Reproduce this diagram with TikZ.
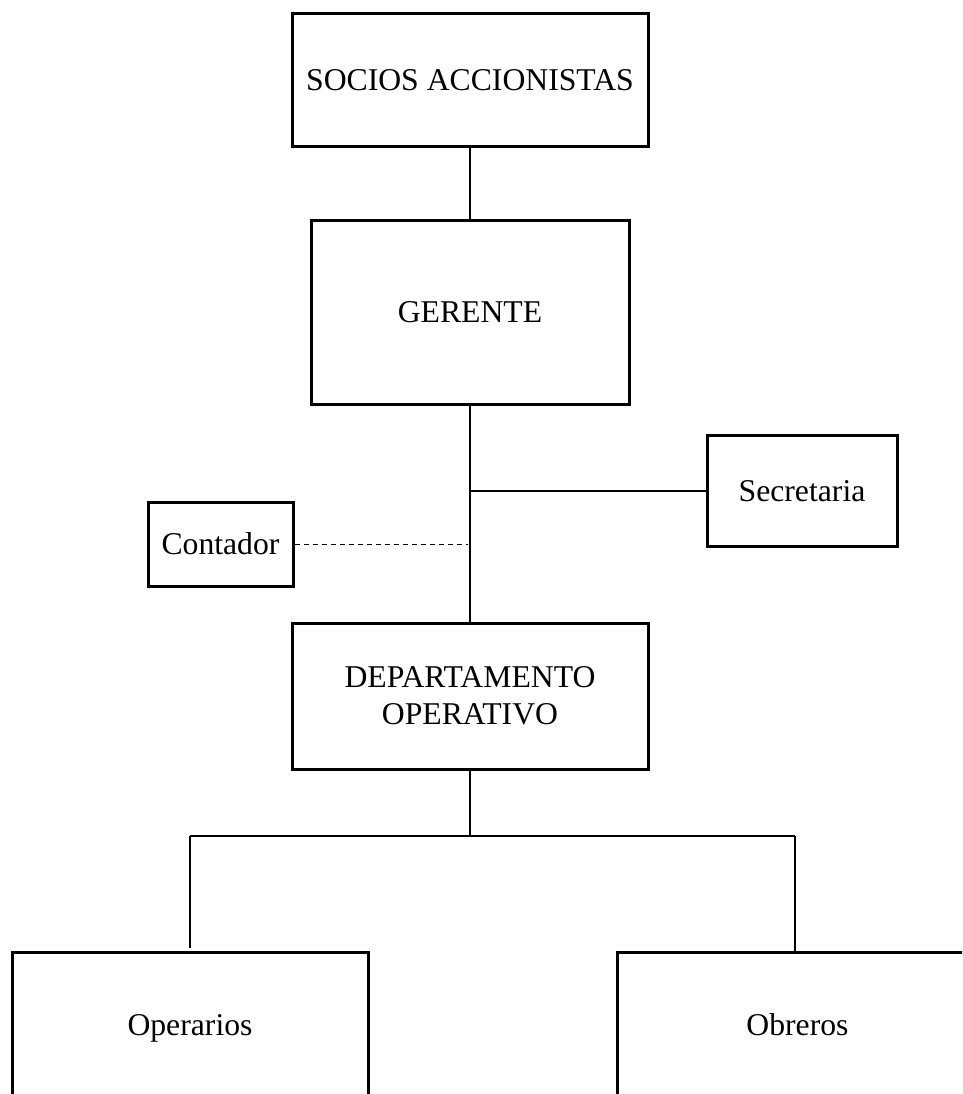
\documentclass[tikz,border=0pt]{standalone}
\usepackage{fontspec}
\setmainfont{Liberation Serif}
\begin{document}
\begin{tikzpicture}[x=1pt,y=-1pt,
  orgbox/.style={draw=black, line width=3pt, inner sep=0pt, align=center,
    font=\fontsize{31.7}{37}\selectfont},
  oneline/.style={text height=21pt, text depth=0pt},
  conn/.style={draw=black, line width=2.3pt},
  dotconn/.style={draw=black, line width=1pt, dash pattern=on 5pt off 4pt}]
\useasboundingbox (0,0) rectangle (962,1094);
\clip (0,0) rectangle (962,1094);
\fill[white] (0,0) rectangle (962,1094);

\node[orgbox, oneline, minimum width=356pt, minimum height=133pt] (soc) at (470,80.5) {SOCIOS ACCIONISTAS};
\node[orgbox, oneline, minimum width=318pt, minimum height=184pt] (ger) at (470,312) {GERENTE};
\node[orgbox, oneline, minimum width=190pt, minimum height=111pt] (sec) at (802,491) {Secretaria};
\node[orgbox, oneline, minimum width=145pt, minimum height=84pt] (con) at (220.5,544) {Contador};
\node[orgbox, minimum width=356pt, minimum height=146pt] (dep) at (470,696) {DEPARTAMENTO\\OPERATIVO};
\node[orgbox, oneline, minimum width=356pt, minimum height=146pt] (ope) at (190,1025) {Operarios};
\node[orgbox, oneline, minimum width=361pt, minimum height=146pt] (obr) at (797.5,1025) {Obreros};

\coordinate (jsec) at (470,491);
\coordinate (jcon) at (468,544);
\coordinate (jdep) at (470,836);
\coordinate (bl) at (190,836);
\coordinate (br) at (795,836);
\coordinate (blend) at (190,948);

\draw[conn] (soc.south) -- (ger.north);
\draw[conn] (ger.south) -- (dep.north);
\draw[conn] (jsec) -- (jsec -| sec.west);
\draw[dotconn] (con.east) -- (jcon);
\draw[conn] (dep.south) -- (jdep);
\draw[conn] (bl) -- (br);
\draw[conn] (bl) -- (blend);
\draw[conn] (br) -- (br |- obr.north);
\end{tikzpicture}
\end{document}
